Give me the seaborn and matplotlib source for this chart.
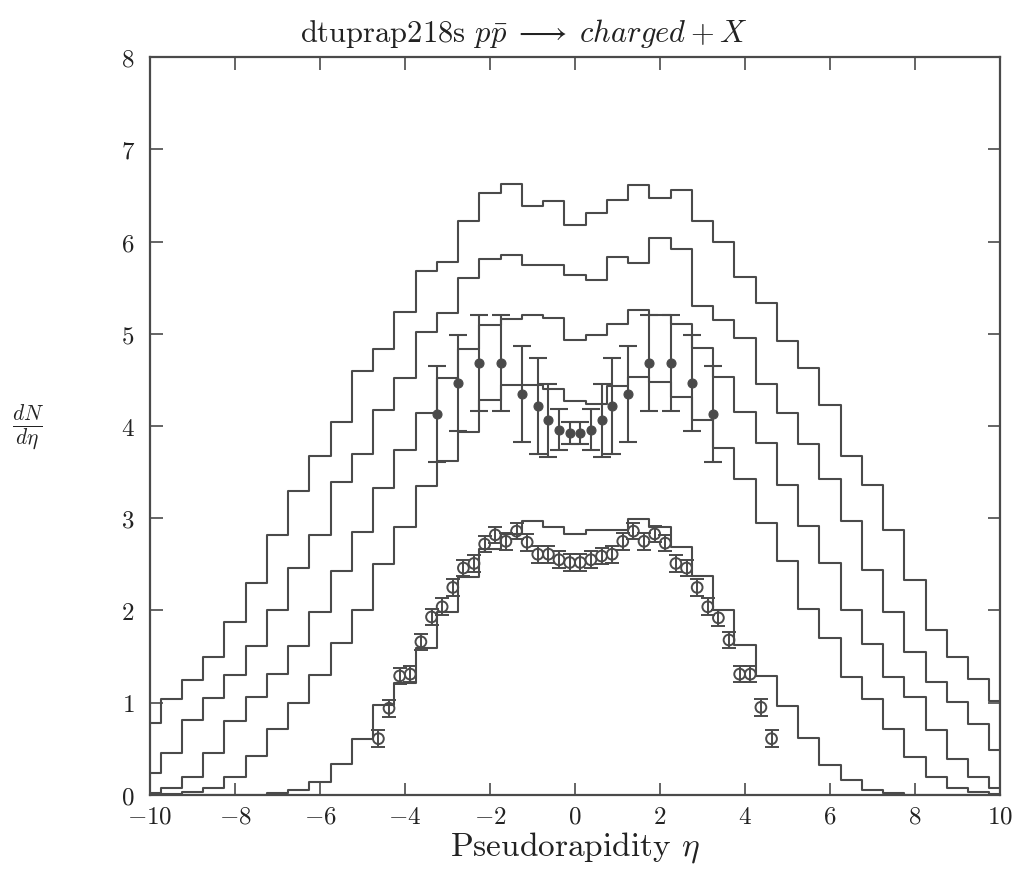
import numpy as np
import pandas as pd
import matplotlib
matplotlib.use("Agg")
import matplotlib.pyplot as plt
import seaborn as sns

# ---------------- data ----------------
eta_bins = np.arange(-10.0, 10.01, 0.5)   # histogram bin centres (width 0.5)

h1 = [0.78, 1.04, 1.25, 1.50, 1.88, 2.30, 2.82, 3.29, 3.68, 4.04, 4.60, 4.83, 5.24, 5.68,
      5.78, 6.22, 6.53, 6.62, 6.38, 6.44, 6.18, 6.31, 6.45, 6.61, 6.47, 6.56, 6.22, 6.00,
      5.62, 5.33, 4.92, 4.63, 4.23, 3.68, 3.36, 2.87, 2.33, 1.79, 1.50, 1.26, 1.02]
h2 = [0.24, 0.45, 0.81, 1.05, 1.30, 1.61, 2.01, 2.46, 2.82, 3.39, 3.70, 4.17, 4.52, 5.02,
      5.22, 5.60, 5.81, 5.85, 5.75, 5.75, 5.64, 5.58, 5.83, 5.77, 6.04, 5.92, 5.30, 5.15,
      4.95, 4.46, 4.14, 3.81, 3.43, 2.97, 2.44, 1.98, 1.55, 1.22, 1.01, 0.77, 0.49]
h3 = [0.02, 0.08, 0.19, 0.45, 0.80, 1.06, 1.31, 1.61, 1.98, 2.43, 2.85, 3.33, 3.74, 4.14,
      4.52, 4.84, 5.10, 5.16, 5.20, 5.17, 4.93, 4.99, 5.11, 5.26, 5.20, 5.11, 4.85, 4.53,
      4.15, 3.82, 3.36, 2.92, 2.51, 2.01, 1.64, 1.28, 1.06, 0.70, 0.39, 0.19, 0.08]
h4 = [0.00, 0.01, 0.03, 0.08, 0.20, 0.42, 0.72, 1.00, 1.30, 1.65, 2.00, 2.50, 2.90, 3.35,
      3.62, 3.94, 4.28, 4.44, 4.44, 4.40, 4.27, 4.24, 4.43, 4.53, 4.48, 4.31, 4.06, 3.76,
      3.42, 2.95, 2.54, 2.02, 1.70, 1.28, 1.04, 0.71, 0.41, 0.19, 0.08, 0.03, 0.01]
h5 = [0.00, 0.00, 0.00, 0.00, 0.00, 0.00, 0.02, 0.05, 0.14, 0.34, 0.61, 0.98, 1.21, 1.59,
      1.98, 2.36, 2.67, 2.83, 2.97, 2.90, 2.83, 2.87, 2.87, 2.99, 2.91, 2.69, 2.37, 2.00,
      1.63, 1.29, 0.96, 0.62, 0.32, 0.16, 0.05, 0.02, 0.00, 0.00, 0.00, 0.00, 0.00]

# filled points (with large errors)
cdf_eta = [-3.25, -2.75, -2.25, -1.75, -1.25, -0.875, -0.625, -0.375, -0.125,
           0.125, 0.375, 0.625, 0.875, 1.25, 1.75, 2.25, 2.75, 3.25]
cdf_val = [4.13, 4.47, 4.68, 4.68, 4.35, 4.22, 4.06, 3.96, 3.92,
           3.92, 3.96, 4.06, 4.22, 4.35, 4.68, 4.68, 4.47, 4.13]
cdf_err = [0.52, 0.52, 0.52, 0.52, 0.52, 0.52, 0.40, 0.22, 0.12,
           0.12, 0.22, 0.40, 0.52, 0.52, 0.52, 0.52, 0.52, 0.52]

# open circles
ua5_eta = [-4.625, -4.375, -4.125, -3.875, -3.625, -3.375, -3.125, -2.875, -2.625, -2.375,
           -2.125, -1.875, -1.625, -1.375, -1.125, -0.875, -0.625, -0.375, -0.125,
           0.125, 0.375, 0.625, 0.875, 1.125, 1.375, 1.625, 1.875, 2.125, 2.375,
           2.625, 2.875, 3.125, 3.375, 3.625, 3.875, 4.125, 4.375, 4.625]
ua5_val = [0.61, 0.94, 1.29, 1.31, 1.66, 1.93, 2.04, 2.25, 2.46, 2.51,
           2.72, 2.82, 2.75, 2.86, 2.74, 2.61, 2.61, 2.55, 2.52,
           2.52, 2.55, 2.59, 2.61, 2.75, 2.86, 2.75, 2.83, 2.73, 2.51,
           2.46, 2.25, 2.04, 1.92, 1.68, 1.31, 1.31, 0.95, 0.61]
ua5_err = [0.09] * len(ua5_val)

title_text = r"dtuprap218s $p\bar{p}\;\longrightarrow\;charged + X$"
xlabel_text = r"Pseudorapidity $\eta$"
ylabel_text = r"$\frac{dN}{d\eta}$"

# ---------------- style ----------------
sns.set_theme(style="ticks")
plt.rcParams.update({
    "font.family": ["cmr10", "DejaVu Serif"],
    "mathtext.fontset": "cm",
    "axes.formatter.use_mathtext": True,
    "axes.unicode_minus": True,
})

ink = "#4a4a4a"
txt = "#222222"

hist_df = pd.concat([
    pd.DataFrame({"eta": eta_bins, "dndeta": vals, "curve": name})
    for name, vals in [("h1", h1), ("h2", h2), ("h3", h3), ("h4", h4), ("h5", h5)]
], ignore_index=True)

fig = plt.figure(figsize=(10.18, 8.70), dpi=100)
ax = fig.add_axes([0.1473, 0.0851, 0.8350, 0.8482])

sns.lineplot(data=hist_df, x="eta", y="dndeta", hue="curve", units="curve",
             estimator=None, palette=[ink] * 5, legend=False,
             drawstyle="steps-mid", linewidth=1.5, ax=ax)

# filled data points
ax.errorbar(cdf_eta, cdf_val, yerr=cdf_err, fmt="none", ecolor=ink,
            elinewidth=1.5, capsize=6.5, capthick=1.5, zorder=3)
sns.scatterplot(x=cdf_eta, y=cdf_val, color=ink, s=42, edgecolor=ink,
                linewidth=0.8, marker="o", ax=ax, zorder=4)

# open circles (error bar visible through the circle)
sns.scatterplot(x=ua5_eta, y=ua5_val, facecolor="none", edgecolor=ink,
                s=60, linewidth=1.4, marker="o", ax=ax, zorder=3)
ax.errorbar(ua5_eta, ua5_val, yerr=ua5_err, fmt="none", ecolor=ink,
            elinewidth=1.4, capsize=5, capthick=1.4, zorder=4)

ax.set_xlim(-10, 10)
ax.set_ylim(0, 8)
ax.set_xticks(np.arange(-10, 11, 2))
ax.set_yticks(np.arange(0, 9, 1))
ax.tick_params(direction="in", top=True, right=True, length=9, width=1.2,
               color=ink, labelsize=18, labelcolor=txt)
ax.tick_params(axis="x", pad=7.5)
ax.tick_params(axis="y", pad=11)
for sp in ax.spines.values():
    sp.set_color(ink)
    sp.set_linewidth(1.6)

ax.set_xlabel(xlabel_text, fontsize=24, color=txt, labelpad=1)
ax.set_ylabel("")
fig.text(0.028, 0.508, ylabel_text, fontsize=22, color=txt,
         ha="center", va="center")
fig.text(300 / 1018, 1 - 42 / 870, title_text, fontsize=22, color=txt,
         ha="left", va="baseline")

fig.savefig("out.png", dpi=100, facecolor="white")
